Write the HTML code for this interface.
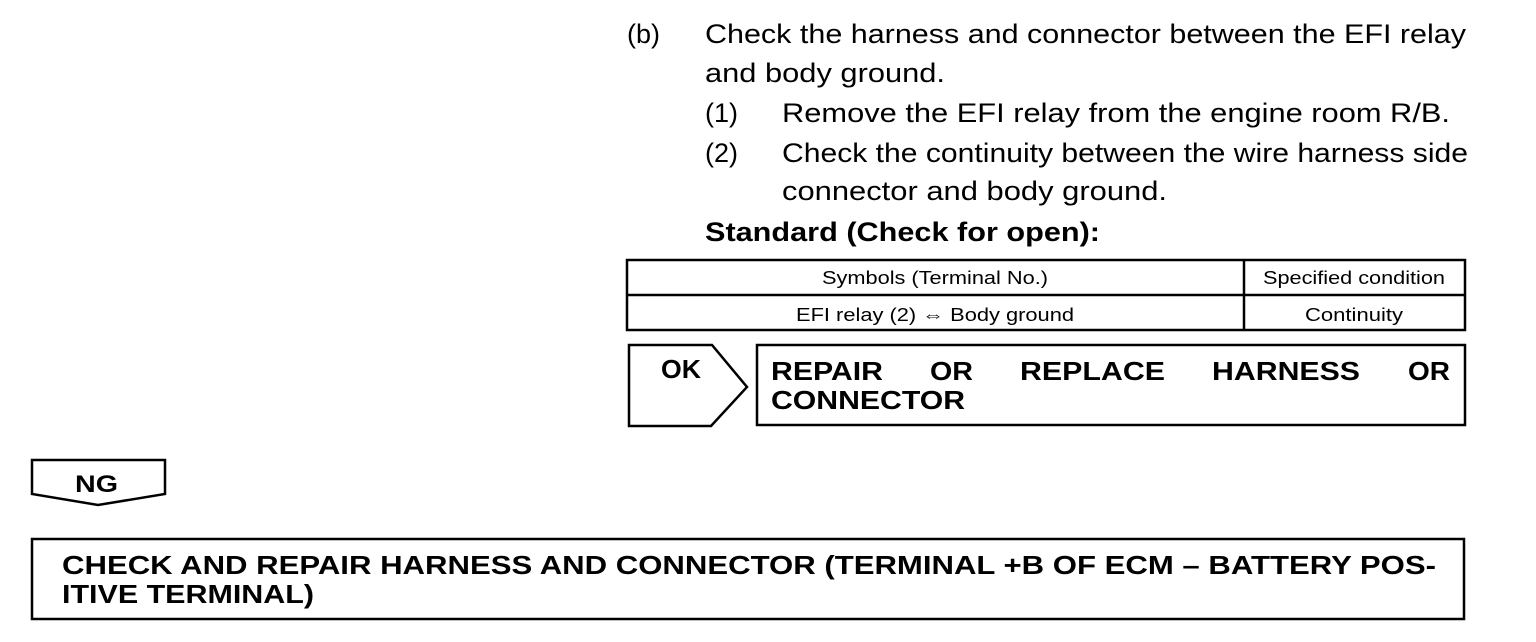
<!DOCTYPE html>
<html><head><meta charset="utf-8"><style>
html,body{margin:0;padding:0;background:#fff;}
svg{display:block;}
text{font-family:"Liberation Sans",Arial,sans-serif;fill:#000;}
.b{font-weight:bold;}
</style></head><body>
<svg width="1536" height="642" viewBox="0 0 1536 642" xmlns="http://www.w3.org/2000/svg">
<g font-size="27">
<text x="627" y="43">(b)</text>
<text x="705" y="43" textLength="761" lengthAdjust="spacingAndGlyphs">Check the harness and connector between the EFI relay</text>
<text x="705" y="82" textLength="240" lengthAdjust="spacingAndGlyphs">and body ground.</text>
<text x="705" y="122">(1)</text>
<text x="782" y="122" textLength="668" lengthAdjust="spacingAndGlyphs">Remove the EFI relay from the engine room R/B.</text>
<text x="705" y="162">(2)</text>
<text x="782" y="162" textLength="686" lengthAdjust="spacingAndGlyphs">Check the continuity between the wire harness side</text>
<text x="782" y="200" textLength="385" lengthAdjust="spacingAndGlyphs">connector and body ground.</text>
<text class="b" x="705" y="241" textLength="395" lengthAdjust="spacingAndGlyphs">Standard (Check for open):</text>
</g>
<g fill="none" stroke="#000" stroke-width="2.5">
<rect x="627" y="260" width="838" height="70"/>
<line x1="627" y1="295" x2="1465" y2="295"/>
<line x1="1244" y1="260" x2="1244" y2="330"/>
<polygon points="629,345 712,345 747,387 711,426 629,426"/>
<rect x="757" y="345" width="708" height="80"/>
<polygon points="32,460 165,460 165,494 98,505 32,494"/>
<rect x="32" y="539" width="1432" height="80"/>
</g>
<g font-size="18">
<text x="935" y="284" text-anchor="middle" textLength="226" lengthAdjust="spacingAndGlyphs">Symbols (Terminal No.)</text>
<text x="1354" y="284" text-anchor="middle" textLength="182" lengthAdjust="spacingAndGlyphs">Specified condition</text>
<text x="935" y="321" text-anchor="middle" textLength="278" lengthAdjust="spacingAndGlyphs">EFI relay (2) ⇔ Body ground</text>
<text x="1354" y="321" text-anchor="middle" textLength="98" lengthAdjust="spacingAndGlyphs">Continuity</text>
</g>
<g font-size="26">
<text class="b" x="661" y="378" textLength="40" lengthAdjust="spacingAndGlyphs">OK</text>
<text class="b" x="771" y="380" textLength="112" lengthAdjust="spacingAndGlyphs">REPAIR</text>
<text class="b" x="930" y="380" textLength="43" lengthAdjust="spacingAndGlyphs">OR</text>
<text class="b" x="1020" y="380" textLength="145" lengthAdjust="spacingAndGlyphs">REPLACE</text>
<text class="b" x="1212" y="380" textLength="148" lengthAdjust="spacingAndGlyphs">HARNESS</text>
<text class="b" x="1408" y="380" textLength="42" lengthAdjust="spacingAndGlyphs">OR</text>
<text class="b" x="771" y="409" textLength="194" lengthAdjust="spacingAndGlyphs">CONNECTOR</text>
<text class="b" x="75" y="492" font-size="24" textLength="43" lengthAdjust="spacingAndGlyphs">NG</text>
<text class="b" x="62" y="574" textLength="1374" lengthAdjust="spacingAndGlyphs">CHECK AND REPAIR HARNESS AND CONNECTOR (TERMINAL +B OF ECM – BATTERY POS-</text>
<text class="b" x="62" y="603" textLength="252" lengthAdjust="spacingAndGlyphs">ITIVE TERMINAL)</text>
</g>
</svg>
</body></html>
